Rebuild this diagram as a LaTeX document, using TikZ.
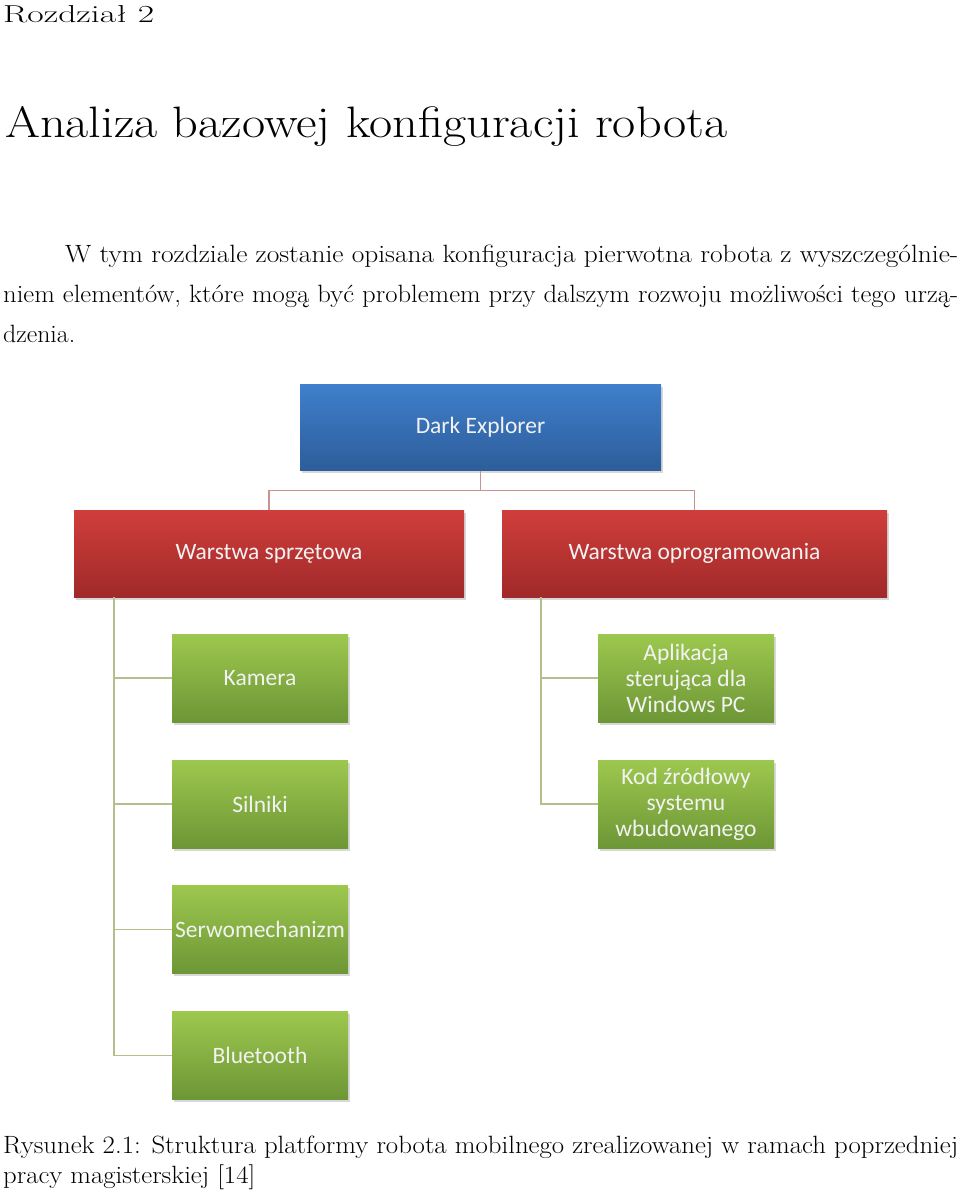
\documentclass[tikz,border=0pt]{standalone}
\usepackage{fontspec}
\usepackage{graphicx}
\usetikzlibrary{shadows}
\newfontfamily\boxfont{Carlito}
\definecolor{bluetop}{HTML}{3F7FCC}
\definecolor{bluebot}{HTML}{2D5D9A}
\definecolor{redtop}{HTML}{D03E3A}
\definecolor{redbot}{HTML}{A0292A}
\definecolor{greentop}{HTML}{9DC84E}
\definecolor{greenbot}{HTML}{6D9636}
\definecolor{redline}{HTML}{C99490}
\definecolor{greenline}{HTML}{B5BF8C}
\newcommand{\fitline}[2]{\resizebox{#1}{\height}{#2}}
\tikzset{
  textline/.style={anchor=base west, inner sep=0pt},
  box/.style={rectangle, inner sep=1pt, align=center, text=white!95!black,
    font=\boxfont\fontsize{23.5}{26}\selectfont,
    drop shadow={opacity=0.3, shadow xshift=1.5pt, shadow yshift=-2.5pt}},
  rootbox/.style={box, minimum width=361pt, minimum height=86pt, top color=bluetop, bottom color=bluebot},
  layerbox/.style={box, minimum height=87pt, top color=redtop, bottom color=redbot},
  partbox/.style={box, minimum width=176pt, minimum height=88pt, top color=greentop, bottom color=greenbot},
  rootedge/.style={draw=redline, line width=1.5pt},
  partedge/.style={draw=greenline, line width=1.5pt}
}
\begin{document}
\begin{tikzpicture}[x=1pt,y=-1pt]
  \useasboundingbox (0,0) rectangle (960,1195);
  \fill[white] (0,0) rectangle (960,1195);

  % text of the page
  \node[textline, font=\fontsize{24.5}{30}\selectfont] (chapter) at (3,22) {\fitline{151pt}{Rozdział 2}};
  \node[textline, font=\fontsize{44}{50}\selectfont] (title) at (5,137) {\fitline{722pt}{Analiza bazowej konfiguracji robota}};
  \node[textline, font=\fontsize{25}{30}\selectfont] (par1) at (65,262) {\fitline{893pt}{W tym rozdziale zostanie opisana konfiguracja pierwotna robota z wyszczególnie-}};
  \node[textline, font=\fontsize{25}{30}\selectfont] (par2) at (3,302) {\fitline{955pt}{niem elementów, które mogą być problemem przy dalszym rozwoju możliwości tego urzą-}};
  \node[textline, font=\fontsize{25}{30}\selectfont] (par3) at (3,342) {\fitline{72pt}{dzenia.}};

  % diagram
  \node[rootbox] (dark) at (480.5,427.5) {Dark Explorer};
  \node[layerbox, minimum width=390pt] (hw) at (269,553.5) {Warstwa sprzętowa};
  \node[layerbox, minimum width=385pt] (sw) at (694.5,553.5) {Warstwa oprogramowania};

  \node[partbox] (kamera) at (260,678) {Kamera};
  \node[partbox] (silniki) at (260,804) {Silniki};
  \node[partbox] (serwo) at (260,929.5) {Serwomechanizm};
  \node[partbox] (bluetooth) at (260,1055.5) {Bluetooth};

  \node[partbox] (aplikacja) at (686,678) {Aplikacja\\sterująca dla\\Windows PC};
  \node[partbox] (kod) at (686,804) {Kod źródłowy\\systemu\\wbudowanego};

  % connectors
  \draw[rootedge] (dark.south) -- ++(0,20) -| (hw.north);
  \draw[rootedge] (dark.south) -- ++(0,20) -| (sw.north);

  \coordinate (hwbus) at (114,597);
  \coordinate (swbus) at (541,597);
  \foreach \part in {kamera,silniki,serwo,bluetooth}
    \draw[partedge] (hwbus) |- (\part.west);
  \foreach \part in {aplikacja,kod}
    \draw[partedge] (swbus) |- (\part.west);

  % caption
  \node[textline, font=\fontsize{25}{30}\selectfont] (cap1) at (3,1153) {\fitline{955pt}{Rysunek 2.1: Struktura platformy robota mobilnego zrealizowanej w ramach poprzedniej}};
  \node[textline, font=\fontsize{25}{30}\selectfont] (cap2) at (3,1183) {\fitline{252pt}{pracy magisterskiej [14]}};
\end{tikzpicture}
\end{document}
